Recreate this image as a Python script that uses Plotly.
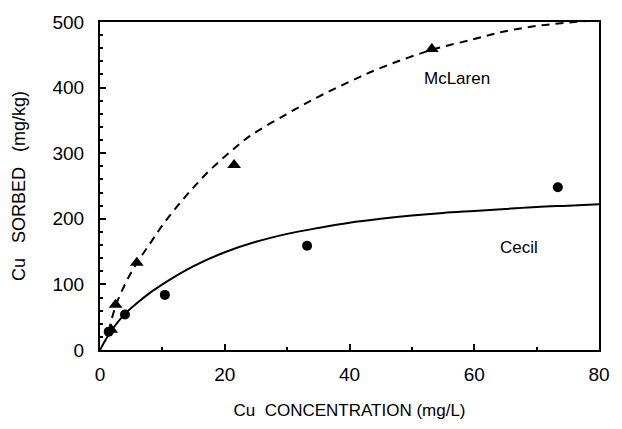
import plotly.graph_objects as go

# Measured points
cecil_x = [1.4, 4.0, 10.4, 33.2, 73.4]
cecil_y = [28, 54, 84, 159, 248]
mclaren_x = [1.8, 2.5, 5.9, 21.5, 53.2]
mclaren_y = [31, 69, 133, 282, 459]

# Fitted curves
cecil_fit_x = [0, 1, 2, 4, 6, 8, 10, 12, 15, 20, 25, 30, 35, 40, 45, 50, 55, 60, 65, 70, 75, 80]
cecil_fit_y = [0, 17, 32, 55, 72, 87, 100, 112, 128, 149, 165, 177, 186, 194, 200, 205, 209, 212, 215, 218, 220, 222]
mclaren_fit_x = [1.4, 2.4, 4, 5.8, 8, 10, 12.3, 15, 17.6, 21, 24, 30, 35, 40, 45, 53, 60, 65, 70, 75, 80]
mclaren_fit_y = [28, 64, 100, 131, 162, 190, 218, 248, 274, 303, 326, 360, 386, 409, 430, 457, 474, 486, 494, 499, 503]

labels = ["Cecil", "McLaren"]
label_x = [67.1, 57.2]
label_y = [156, 414]

fig = go.Figure()
fig.add_trace(go.Scatter(x=cecil_fit_x, y=cecil_fit_y, mode="lines",
                         line=dict(color="black", width=2, shape="spline"),
                         showlegend=False, hoverinfo="skip"))
fig.add_trace(go.Scatter(x=mclaren_fit_x, y=mclaren_fit_y, mode="lines",
                         line=dict(color="black", width=2, dash="8px,6px", shape="spline"),
                         showlegend=False, hoverinfo="skip"))
fig.add_trace(go.Scatter(x=cecil_x, y=cecil_y, mode="markers",
                         marker=dict(symbol="circle", size=10, color="black"),
                         showlegend=False, cliponaxis=False))
fig.add_trace(go.Scatter(x=mclaren_x, y=mclaren_y, mode="markers",
                         marker=dict(symbol="triangle-up", size=12, color="black"),
                         showlegend=False, cliponaxis=False))

for t, x, y in zip(labels, label_x, label_y):
    fig.add_annotation(x=x, y=y, text=t, showarrow=False,
                       font=dict(family="Liberation Sans, Arial", size=17, color="black"))

tick_font = dict(family="Liberation Sans, Arial", size=19, color="black")
title_font = dict(family="Liberation Sans, Arial", size=17, color="black")
fig.update_xaxes(range=[0, 80], dtick=20, tick0=0, ticks="inside", ticklen=6,
                 tickwidth=1.5, tickcolor="black", ticklabelstandoff=6,
                 minor=dict(ticks="inside", dtick=10, ticklen=3, tickcolor="black"),
                 showline=True, linecolor="black", linewidth=2, mirror=True,
                 showgrid=False, zeroline=False, tickfont=tick_font,
                 title=dict(text="Cu\u00a0\u00a0CONCENTRATION (mg/L)", font=title_font, standoff=20))
fig.update_yaxes(range=[0, 500], dtick=100, tick0=0, ticks="inside", ticklen=6,
                 tickwidth=1.5, tickcolor="black", ticklabelstandoff=10,
                 minor=dict(ticks="inside", dtick=20, ticklen=3, tickcolor="black"),
                 showline=True, linecolor="black", linewidth=2, mirror=True,
                 showgrid=False, zeroline=False, tickfont=tick_font,
                 title=dict(text="Cu\u00a0\u00a0\u00a0SORBED\u00a0\u00a0\u00a0(mg/kg)",
                            font=dict(family="Liberation Sans, Arial", size=18, color="black"),
                            standoff=22))
fig.update_layout(width=622, height=429, margin=dict(l=100, r=15, t=13, b=75),
                  paper_bgcolor="white", plot_bgcolor="white")
fig.write_html("out.html")
